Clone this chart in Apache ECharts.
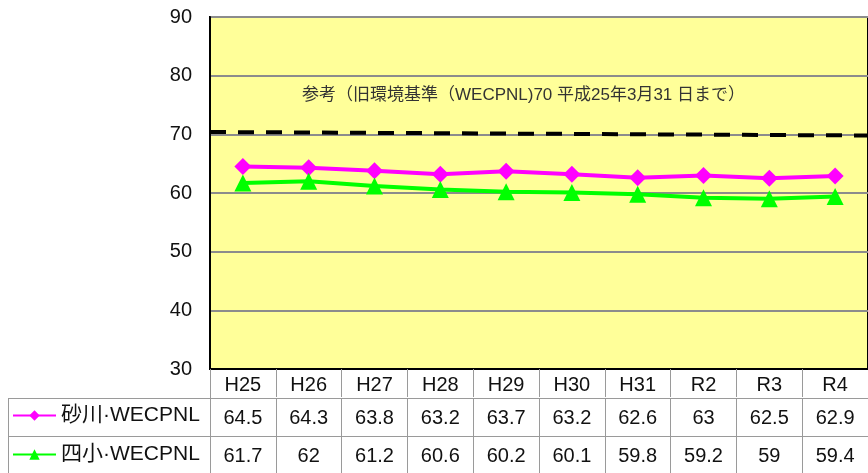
<!DOCTYPE html>
<html>
<head>
<meta charset="utf-8">
<script src="https://cdn.jsdelivr.net/npm/echarts@6/dist/echarts.min.js"></script>
<style>
    html, body { margin: 0; padding: 0; background: #fff; }
    #chart { width: 868px; height: 473px; }
</style>
</head>
<body>
<div id="chart"></div>
<script>
const years = ['H25', 'H26', 'H27', 'H28', 'H29', 'H30', 'H31', 'R2', 'R3', 'R4'];
const sunagawa = [64.5, 64.3, 63.8, 63.2, 63.7, 63.2, 62.6, 63, 62.5, 62.9];
const yonsho = [61.7, 62, 61.2, 60.6, 60.2, 60.1, 59.8, 59.2, 59, 59.4];
const refLine = [[0, 70.4], [1, 69.8]];
const yTicks = [30, 40, 50, 60, 70, 80, 90];
const seriesNames = ['砂川·WECPNL', '四小·WECPNL'];
const refText = '参考（旧環境基準（WECPNL)70 平成25年3月31 日まで）';

const FONT = "'Liberation Sans', 'Noto Sans CJK JP', sans-serif";
const GRID_LEFT = 210, GRID_TOP = 17, GRID_H = 352, GRID_W = 670;
const CELL = '#9a9a9a';

const myChart = echarts.init(document.getElementById('chart'));

function tableAxis(values, offset, tickLen, margin) {
    return {
        type: 'category',
        data: values.map(v => String(v)),
        position: 'bottom',
        offset: offset,
        gridIndex: 0,
        axisLine: { show: true, lineStyle: { color: CELL, width: 1 } },
        axisTick: { show: true, length: tickLen, lineStyle: { color: CELL, width: 1 } },
        axisLabel: { fontSize: 20, color: '#111', fontFamily: FONT, margin: margin, interval: 0 },
        splitLine: { show: false }
    };
}

function legendRow(name, top) {
    return {
        left: 12, top: top, padding: 0,
        itemWidth: 43, itemHeight: 13,
        textStyle: { fontSize: 21, color: '#111', fontFamily: FONT },
        data: [name]
    };
}

const option = {
    animation: false,
    textStyle: { fontFamily: FONT },
    grid: {
        left: GRID_LEFT, top: GRID_TOP, width: GRID_W, height: GRID_H,
        show: true, backgroundColor: '#FFFF99', borderColor: '#000', borderWidth: 2
    },
    legend: [
        legendRow(seriesNames[0], 405),
        legendRow(seriesNames[1], 444)
    ],
    xAxis: [
        {
            type: 'category',
            data: years,
            position: 'bottom',
            axisLine: { show: true, lineStyle: { color: '#000', width: 2 } },
            axisTick: { show: true, length: 28, lineStyle: { color: CELL, width: 1 } },
            axisLabel: { fontSize: 20, color: '#111', fontFamily: FONT, margin: 6, interval: 0 },
            splitLine: { show: false }
        },
        tableAxis(sunagawa, 29, 38, 10),
        tableAxis(yonsho, 67, 40, 10),
        {
            type: 'value', min: 0, max: 1, show: false
        }
    ],
    yAxis: {
        type: 'value',
        min: yTicks[0], max: yTicks[yTicks.length - 1], interval: 10,
        axisLine: { show: true, lineStyle: { color: '#000', width: 2 } },
        axisTick: { show: false },
        axisLabel: { fontSize: 20, color: '#111', fontFamily: FONT, margin: 18 },
        splitLine: { show: true, lineStyle: { color: '#8c8c8c', width: 2 } }
    },
    series: [
        {
            name: '参考',
            type: 'line',
            xAxisIndex: 3,
            data: refLine,
            symbol: 'none',
            lineStyle: { color: '#000', width: 4, type: [16, 12] },
            z: 1
        },
        {
            name: seriesNames[0],
            type: 'line',
            data: sunagawa,
            symbol: 'diamond',
            symbolSize: 17,
            color: '#FF00FF',
            lineStyle: { color: '#FF00FF', width: 4 },
            itemStyle: { color: '#FF00FF' },
            z: 3
        },
        {
            name: seriesNames[1],
            type: 'line',
            data: yonsho,
            symbol: 'triangle',
            symbolSize: 17,
            color: '#00FF00',
            lineStyle: { color: '#00FF00', width: 4 },
            itemStyle: { color: '#00FF00' },
            z: 3
        }
    ],
    graphic: [
        {
            type: 'text', left: 302, top: 87, z: 10,
            style: { text: refText, fontSize: 17, fill: '#333', fontFamily: FONT }
        },
        {
            type: 'line', z: 10,
            shape: { x1: 8, y1: 398.5, x2: GRID_LEFT, y2: 398.5 },
            style: { stroke: CELL, lineWidth: 1 }
        },
        {
            type: 'line', z: 10,
            shape: { x1: 8, y1: 436.5, x2: GRID_LEFT, y2: 436.5 },
            style: { stroke: CELL, lineWidth: 1 }
        },
        {
            type: 'line', z: 10,
            shape: { x1: 8.5, y1: 398, x2: 8.5, y2: 473 },
            style: { stroke: CELL, lineWidth: 1 }
        },
        {
            type: 'line', z: 10,
            shape: { x1: GRID_LEFT + 0.5, y1: 369, x2: GRID_LEFT + 0.5, y2: 473 },
            style: { stroke: CELL, lineWidth: 1 }
        }
    ]
};

myChart.setOption(option);
</script>
</body>
</html>
